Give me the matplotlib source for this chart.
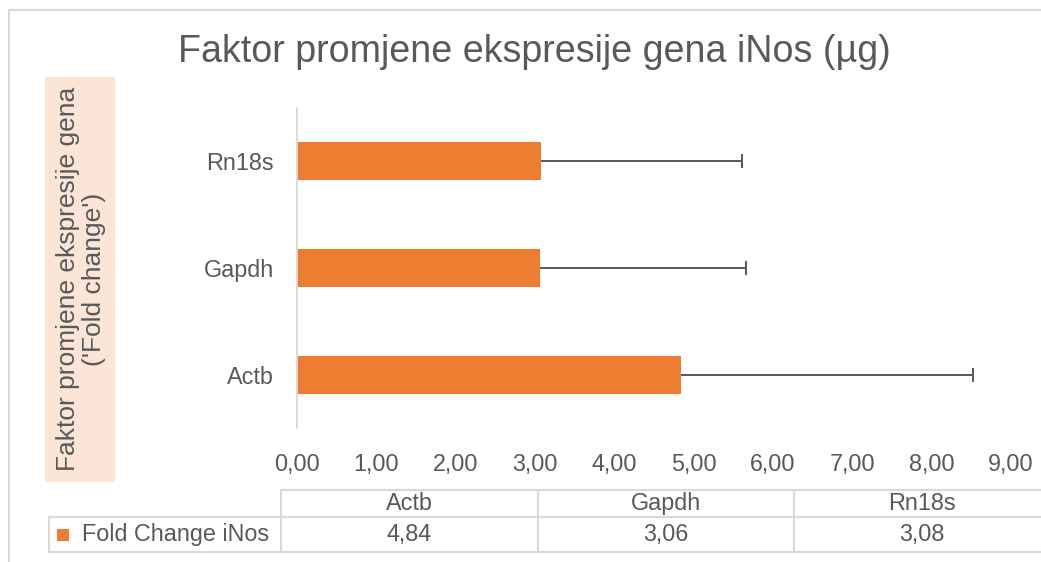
import matplotlib.pyplot as plt
from matplotlib.lines import Line2D
from matplotlib.patches import Rectangle

plt.rcParams['font.family'] = ['Liberation Sans', 'DejaVu Sans']

genes = ['Actb', 'Gapdh', 'Rn18s']
fold_change = [4.84, 3.06, 3.08]
errors = [3.68, 2.60, 2.53]
series_name = 'Fold Change iNos'
xticks = [0, 1, 2, 3, 4, 5, 6, 7, 8, 9]

W, H = 1041, 562
txt = '#595959'
orange = '#ED7D31'
grid = '#D9D9D9'

fig = plt.figure(figsize=(W / 100, H / 100), dpi=100)


def fx(px):
    return px / W


def fy(py):
    return 1 - py / H


# chart border (top and left visible)
fig.add_artist(Line2D([fx(9), fx(9)], [fy(10), fy(562)], color=grid, lw=1.5))
fig.add_artist(Line2D([fx(9), fx(1041)], [fy(10), fy(10)], color=grid, lw=1.5))

ax = fig.add_axes([fx(297), fy(428), fx(1011) - fx(297), (428 - 108) / H])
ypos = list(range(len(genes)))
ax.barh(ypos, fold_change, height=0.355, color=orange, zorder=2)
# plus-only error bars with a cap at the far end
ends = [v + e for v, e in zip(fold_change, errors)]
ax.hlines(ypos, fold_change, ends, color=txt, lw=1.4, zorder=3)
ax.plot(ends, ypos, linestyle='none', marker='|', markersize=10,
        markeredgewidth=1.4, color=txt, zorder=3)
ax.set_xlim(0, 9)
ax.set_ylim(-0.5, 2.5)
ax.set_xticks(xticks)
ax.set_xticklabels([f'{v:.2f}'.replace('.', ',') for v in xticks])
ax.set_yticks(ypos)
ax.set_yticklabels(genes)
ax.tick_params(axis='x', length=0, pad=18, labelsize=16.8, labelcolor=txt)
ax.tick_params(axis='y', length=0, pad=16.5, labelsize=16.8, labelcolor=txt)
for s in ['top', 'right', 'bottom']:
    ax.spines[s].set_visible(False)
ax.spines['left'].set_color(grid)
ax.spines['left'].set_linewidth(1.3)

fig.text(fx(534), fy(52), 'Faktor promjene ekspresije gena iNos (µg)',
         ha='center', va='center', fontsize=27.1, color=txt)

# y axis title with peach background
fig.add_artist(Rectangle((fx(45), fy(482)), fx(115) - fx(45), (482 - 77) / H,
                         facecolor='#FBE5D6', edgecolor='none'))
fig.text(fx(81), fy(279), "Faktor promjene ekspresije gena\n('Fold change')",
         rotation=90, ha='center', va='center', fontsize=19, color=txt,
         multialignment='center', linespacing=1.1)

# data table
col_edges = [281, 537.5, 794, 1050.5]
y_top, y_mid, y_bot = 490, 517, 552
lw_t = 1.5
fig.add_artist(Line2D([fx(281), fx(1041)], [fy(y_top), fy(y_top)], color=grid, lw=lw_t))
fig.add_artist(Line2D([fx(49), fx(1041)], [fy(y_mid), fy(y_mid)], color=grid, lw=lw_t))
fig.add_artist(Line2D([fx(49), fx(1041)], [fy(y_bot), fy(y_bot)], color=grid, lw=lw_t))
fig.add_artist(Line2D([fx(49), fx(49)], [fy(y_mid), fy(y_bot)], color=grid, lw=lw_t))
for e in col_edges[:-1]:
    fig.add_artist(Line2D([fx(e), fx(e)], [fy(y_top), fy(y_bot)], color=grid, lw=lw_t))
for i, g in enumerate(genes):
    cx = (col_edges[i] + col_edges[i + 1]) / 2
    fig.text(fx(cx), fy(503.5), g, ha='center', va='center', fontsize=16.8, color=txt)
    fig.text(fx(cx), fy(535), f'{fold_change[i]:.2f}'.replace('.', ','),
             ha='center', va='center', fontsize=16.8, color=txt)
fig.add_artist(Rectangle((fx(57), fy(541)), fx(12), 12 / H,
                         facecolor=orange, edgecolor='none'))
fig.text(fx(82), fy(535), series_name, ha='left', va='center', fontsize=16.8, color=txt)

fig.savefig('out.png', dpi=100)
